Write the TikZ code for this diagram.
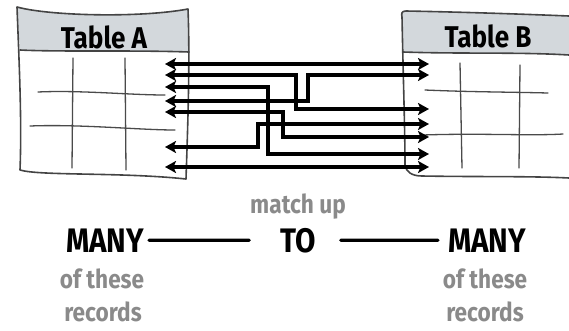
\documentclass[tikz,border=0pt]{standalone}
\usepackage{fontspec}
\setmainfont{Fira Sans}
\newfontfamily\handfont[FakeStretch=0.87]{Fira Sans}
\usetikzlibrary{positioning, arrows.meta}

\begin{document}
\begin{tikzpicture}[
    x=1pt, y=-1pt,
    >={Stealth[length=11pt, width=12pt, inset=2.5pt]},
    outline/.style={draw=cEdge, line width=1.6pt, line join=round, line cap=round},
    gridline/.style={draw=cGrid, line width=1.3pt, line cap=round},
    link/.style={<->, line width=3.2pt},
    bar/.style={line width=3.4pt, line cap=round},
    tabletitle/.style={font=\handfont\fontsize{30}{32}\selectfont\bfseries, inner sep=0pt, anchor=base},
    bigword/.style={font=\handfont\fontsize{34}{36}\selectfont\bfseries, inner sep=0pt, anchor=base},
    note/.style={text=cNote, font=\handfont\fontsize{26}{28}\selectfont\bfseries, inner sep=0pt, anchor=base},
]

\definecolor{cEdge}{HTML}{444444} % table outline
\definecolor{cGrid}{HTML}{4A4A4A} % table rows and columns
\definecolor{cHead}{HTML}{D3D8DC} % header band
\definecolor{cNote}{HTML}{8A8A8A} % gray words

\useasboundingbox (0,0) rectangle (569,330);

% Table A
\fill[cHead] (17,7) .. controls (50,16) and (140,18) .. (188,9) -- (189,52) .. controls (130,50) and (60,52) .. (20,50) -- cycle;
\draw[outline] (188,9) .. controls (140,18) and (50,16) .. (17,7) .. controls (19,60) and (22,120) .. (20,170) .. controls (40,176) and (120,172) .. (186,179) .. controls (188,120) and (190,60) .. (188,9);
\draw[outline] (20,50) .. controls (60,52) and (130,50) .. (189,52);
\draw[gridline] (73,58) -- (72,168);
\draw[gridline] (125,58) -- (126,170);
\draw[gridline] (38,92) .. controls (80,90) and (130,95) .. (165,95);
\draw[gridline] (30,126) .. controls (80,124) and (140,130) .. (175,130);
\node[tabletitle] (titleA) at (104,48) {Table A};

% Table B
\fill[cHead] (406,11) .. controls (460,12) and (520,14) .. (569,16) -- (569,55) .. controls (520,52) and (460,54) .. (403,52) -- (402,17) .. controls (401,13) and (402,11) .. cycle;
\draw[outline] (569,16) .. controls (520,14) and (460,12) .. (406,11) .. controls (402,11) and (401,13) .. (402,17) .. controls (403,70) and (405,130) .. (405,165) .. controls (406,172) and (412,176) .. (422,176) .. controls (480,177) and (530,176) .. (569,178);
\draw[outline] (403,52) .. controls (460,54) and (520,52) .. (569,55);
\draw[gridline] (460,63) -- (462,168);
\draw[gridline] (520,65) -- (519,168);
\draw[gridline] (425,90) .. controls (470,92) and (510,92) .. (548,93);
\draw[gridline] (423,135) .. controls (480,133) and (530,136) .. (563,134);
\node[tabletitle] (titleB) at (488,47) {Table B};

% rows of A
\coordinate (a1) at (165,64);
\coordinate (a2) at (165,75);
\coordinate (a3) at (165,87);
\coordinate (a4) at (165,101);
\coordinate (a5) at (165,112);
\coordinate (a6) at (165,147);
\coordinate (a7) at (165,167);

% rows of B
\coordinate (b1) at (429,64);
\coordinate (b2) at (429,75);
\coordinate (b3) at (429,109);
\coordinate (b4) at (429,124);
\coordinate (b5) at (429,137);
\coordinate (b6) at (429,154);
\coordinate (b7) at (429,167);

% where the links step down or up
\coordinate (j1) at (296,109);
\coordinate (j2) at (308,75);
\coordinate (j3) at (268,154);
\coordinate (j4) at (283,137);
\coordinate (j5) at (258,124);

\draw[link] (a1) -- (b1);
\draw[link] (a2) -| (j1) -- (b3);
\draw[link] (a4) -| (j2) -- (b2);
\draw[link] (a3) -| (j3) -- (b6);
\draw[link] (a5) -| (j4) -- (b5);
\draw[link] (a6) -| (j5) -- (b4);
\draw[link] (a7) -- (b7);

% many to many
\node[bigword] (manyA) at (105,252) {MANY};
\node[bigword] (to) at (298,252) {TO};
\node[bigword] (manyB) at (487,252) {MANY};
\node[note] (matchup) at (298,213) {match up};
\node[note] (theseA) at (102,288) {of these};
\node[note] (recordsA) at (103,321) {records};
\node[note] (theseB) at (485,288) {of these};
\node[note] (recordsB) at (485,321) {records};

\draw[bar, shorten <=5pt, shorten >=31pt] (manyA.east) -- (to.west);
\draw[bar, shorten <=25pt, shorten >=10pt] (to.east) -- (manyB.west);

\end{tikzpicture}
\end{document}
